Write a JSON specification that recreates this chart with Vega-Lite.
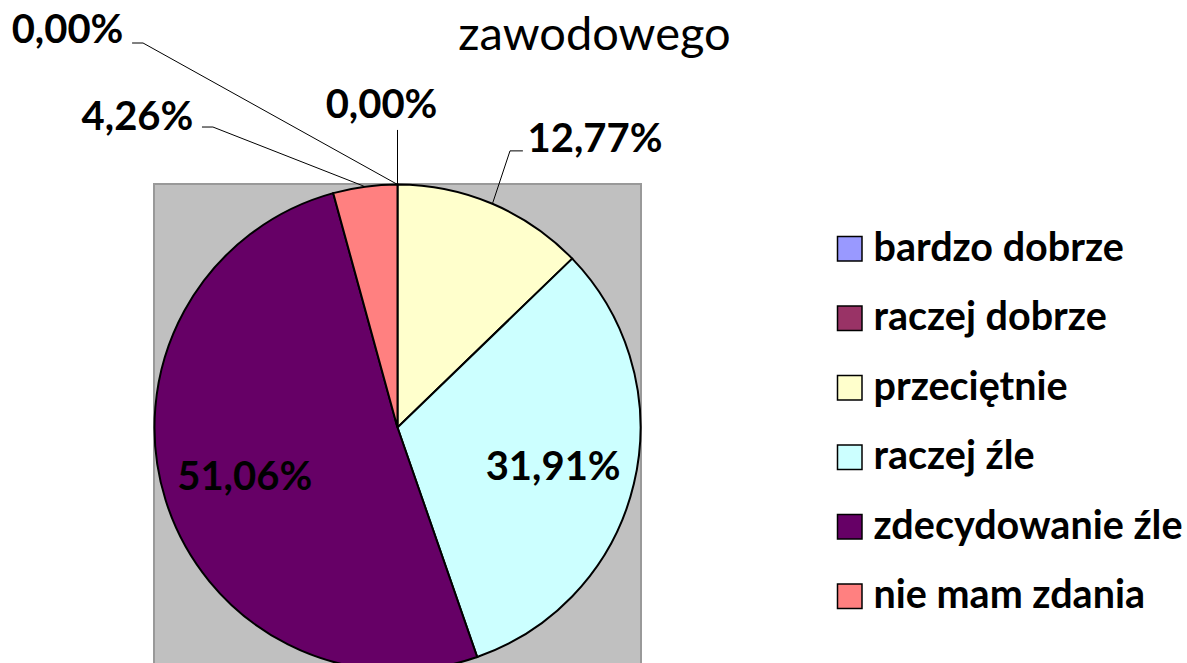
{
  "$schema": "https://vega.github.io/schema/vega-lite/v6.json",
  "autosize": {"type": "none"},
  "padding": {"left": 154, "top": 184, "right": 546, "bottom": -8},
  "width": 487,
  "height": 487,
  "background": "white",
  "config": {
    "locale": {"number": {"decimal": ",", "thousands": " ", "grouping": [3], "currency": ["", " zł"]}},
    "view": {"fill": "#C0C0C0", "stroke": "#999999", "strokeWidth": 2},
    "font": "Lato"
  },
  "title": {
    "text": "zawodowego",
    "font": "Lato",
    "fontSize": 47,
    "fontWeight": "normal",
    "color": "black",
    "anchor": "middle",
    "frame": "group",
    "dx": 197,
    "baseline": "alphabetic",
    "offset": -86
  },
  "datasets": {
    "main": [
      {"kategoria": "bardzo dobrze", "idx": 1, "value": 0.0},
      {"kategoria": "raczej dobrze", "idx": 2, "value": 0.0},
      {"kategoria": "przeciętnie", "idx": 3, "value": 0.1277},
      {"kategoria": "raczej źle", "idx": 4, "value": 0.3191},
      {"kategoria": "zdecydowanie źle", "idx": 5, "value": 0.5106},
      {"kategoria": "nie mam zdania", "idx": 6, "value": 0.0426}
    ],
    "leaders": [
      {"kategoria": "bardzo dobrze", "i": 0, "u": 0, "v": 0.998},
      {"kategoria": "bardzo dobrze", "i": 1, "u": -1.045, "v": 1.579},
      {"kategoria": "bardzo dobrze", "i": 2, "u": -1.09, "v": 1.579},
      {"kategoria": "raczej dobrze", "i": 0, "u": 0, "v": 0.998},
      {"kategoria": "raczej dobrze", "i": 1, "u": 0, "v": 1.222},
      {"kategoria": "przeciętnie", "i": 0, "u": 0.39, "v": 0.919},
      {"kategoria": "przeciętnie", "i": 1, "u": 0.462, "v": 1.136},
      {"kategoria": "przeciętnie", "i": 2, "u": 0.515, "v": 1.136},
      {"kategoria": "nie mam zdania", "i": 0, "u": -0.133, "v": 0.989},
      {"kategoria": "nie mam zdania", "i": 1, "u": -0.758, "v": 1.234},
      {"kategoria": "nie mam zdania", "i": 2, "u": -0.803, "v": 1.234}
    ]
  },
  "layer": [
    {
      "data": {"name": "main"},
      "mark": {"type": "arc", "radius": 243, "stroke": "black", "strokeWidth": 2},
      "encoding": {
        "theta": {"field": "value", "type": "quantitative", "stack": true},
        "order": {"field": "idx", "type": "quantitative"},
        "color": {
          "field": "kategoria",
          "type": "nominal",
          "scale": {
            "domain": ["bardzo dobrze", "raczej dobrze", "przeciętnie", "raczej źle", "zdecydowanie źle", "nie mam zdania"],
            "range": ["#9999FF", "#993366", "#FFFFCC", "#CCFFFF", "#660066", "#FF8080"]
          },
          "legend": {
            "orient": "none",
            "legendX": 676,
            "legendY": 45,
            "title": null,
            "symbolType": "square",
            "symbolSize": 600,
            "symbolStrokeColor": "black",
            "symbolStrokeWidth": 1.5,
            "symbolOpacity": 1,
            "labelFont": "Lato",
            "labelFontSize": 39.5,
            "labelFontWeight": "bold",
            "labelColor": "black",
            "labelOffset": 4,
            "labelLimit": 500,
            "rowPadding": 28.5,
            "padding": 0
          }
        }
      }
    },
    {
      "data": {"name": "main"},
      "mark": {"type": "text", "radius": 160, "font": "Lato", "fontSize": 40, "fontWeight": "bold", "color": "black", "align": "center", "baseline": "alphabetic", "dy": 15},
      "encoding": {
        "theta": {"field": "value", "type": "quantitative", "stack": true},
        "order": {"field": "idx", "type": "quantitative"},
        "text": {"condition": {"test": "datum.value > 0.2", "field": "value", "type": "quantitative", "format": ".2%"}, "value": ""}
      }
    },
    {
      "data": {"name": "main"},
      "mark": {"type": "text", "radius": 243, "font": "Lato", "fontSize": 40, "fontWeight": "bold", "color": "black", "align": "center", "baseline": "alphabetic", "dx": -330, "dy": -141.5},
      "encoding": {
        "theta": {"field": "value", "type": "quantitative", "stack": true},
        "order": {"field": "idx", "type": "quantitative"},
        "text": {"condition": {"test": "datum.kategoria === 'bardzo dobrze'", "field": "value", "type": "quantitative", "format": ".2%"}, "value": ""}
      }
    },
    {
      "data": {"name": "main"},
      "mark": {"type": "text", "radius": 243, "font": "Lato", "fontSize": 40, "fontWeight": "bold", "color": "black", "align": "center", "baseline": "alphabetic", "dx": -16, "dy": -66.5},
      "encoding": {
        "theta": {"field": "value", "type": "quantitative", "stack": true},
        "order": {"field": "idx", "type": "quantitative"},
        "text": {"condition": {"test": "datum.kategoria === 'raczej dobrze'", "field": "value", "type": "quantitative", "format": ".2%"}, "value": ""}
      }
    },
    {
      "data": {"name": "main"},
      "mark": {"type": "text", "radius": 243, "font": "Lato", "fontSize": 40, "fontWeight": "bold", "color": "black", "align": "center", "baseline": "alphabetic", "dx": 102.6, "dy": -51.8},
      "encoding": {
        "theta": {"field": "value", "type": "quantitative", "stack": true},
        "order": {"field": "idx", "type": "quantitative"},
        "text": {"condition": {"test": "datum.kategoria === 'przeciętnie'", "field": "value", "type": "quantitative", "format": ".2%"}, "value": ""}
      }
    },
    {
      "data": {"name": "main"},
      "mark": {"type": "text", "radius": 243, "font": "Lato", "fontSize": 40, "fontWeight": "bold", "color": "black", "align": "center", "baseline": "alphabetic", "dx": -227.6, "dy": -56.7},
      "encoding": {
        "theta": {"field": "value", "type": "quantitative", "stack": true},
        "order": {"field": "idx", "type": "quantitative"},
        "text": {"condition": {"test": "datum.kategoria === 'nie mam zdania'", "field": "value", "type": "quantitative", "format": ".2%"}, "value": ""}
      }
    },
    {
      "data": {"name": "leaders"},
      "mark": {"type": "line", "color": "black", "strokeWidth": 1, "clip": false},
      "encoding": {
        "x": {"field": "u", "type": "quantitative", "scale": {"domain": [-1, 1], "nice": false, "zero": false}, "axis": null},
        "y": {"field": "v", "type": "quantitative", "scale": {"domain": [-1, 1], "nice": false, "zero": false}, "axis": null},
        "detail": {"field": "kategoria", "type": "nominal"},
        "order": {"field": "i", "type": "quantitative"}
      }
    }
  ]
}
